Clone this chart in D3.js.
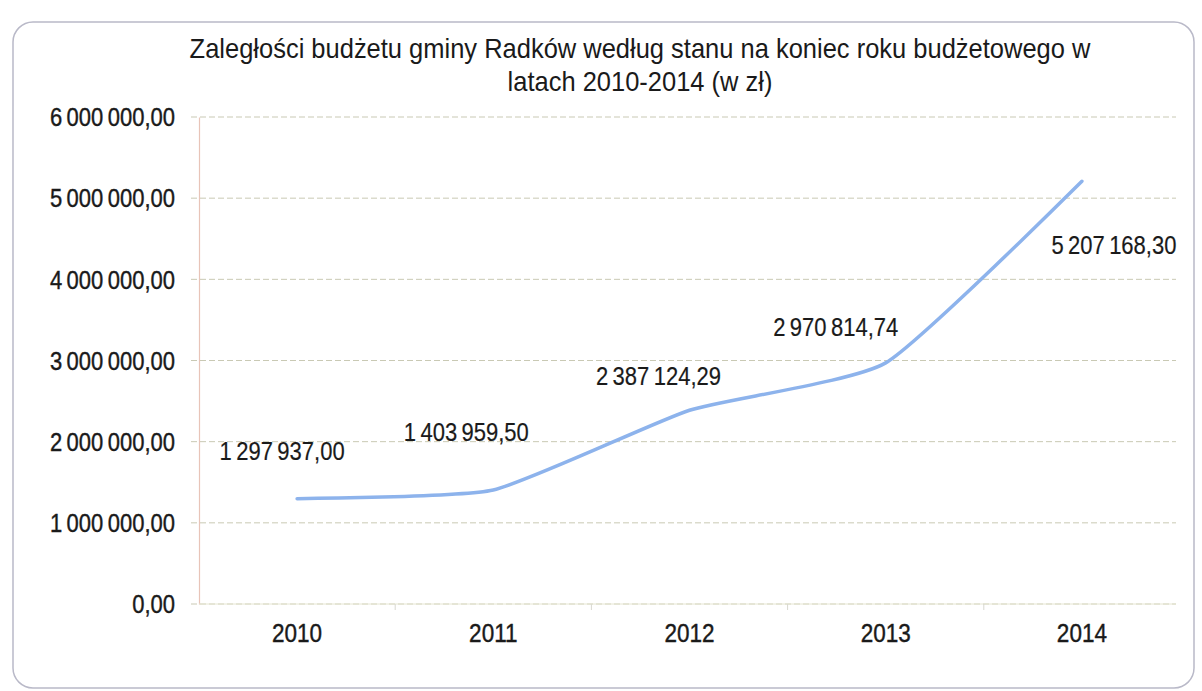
<!DOCTYPE html>
<html>
<head>
<meta charset="utf-8">
<script src="https://cdn.jsdelivr.net/npm/d3@7"></script>
<style>
  body { margin: 0; background: #fff; }
  svg { display: block; font-family: "Liberation Sans", Arial, sans-serif; }
</style>
</head>
<body>
<svg width="1202" height="691"></svg>
<script>
// ------------------------------ data ----------
var years = ['2010', '2011', '2012', '2013', '2014'];
var values = [1297937.00, 1403959.50, 2387124.29, 2970814.74, 5207168.30];
var yTicks = [0, 1000000, 2000000, 3000000, 4000000, 5000000, 6000000];
var titleLines = [
    'Zaległości budżetu gminy Radków według stanu na koniec roku budżetowego  w',
    'latach 2010-2014 (w zł)'
];

// label nudges (px) relative to each point
var labelDx = [-15, -27, -31, -50, 32];
var labelDy = [-47, -58, -34, -36, 64];

// ------------------------------ layout ----------
var svg = d3.select('svg');
var plotL = 199, plotR = 1180, plotT = 117, plotB = 604;

function fmt(v) {
    var s = d3.format(',.2f')(v);
    return s.replace(/,/g, '\u2009').replace('.', ',');
}

// text in the scan is a bit narrower than the font -> squeeze it
function squeeze(sel, k) {
    sel.each(function() {
        var w = this.getComputedTextLength();
        d3.select(this)
          .attr('textLength', w * k)
          .attr('lengthAdjust', 'spacingAndGlyphs');
    });
}

// frame
svg.append('rect')
   .attr('x', 13).attr('y', 22)
   .attr('width', 1181).attr('height', 666)
   .attr('rx', 20)
   .style('fill', 'none')
   .style('stroke', '#b9b9c8')
   .style('stroke-width', 1.5);

// title
var title = svg.selectAll('text.title')
   .data(titleLines)
   .enter().append('text')
   .attr('class', 'title')
   .attr('x', 640)
   .attr('y', (d, i) => 58 + i * 33)
   .attr('text-anchor', 'middle')
   .style('font-size', '28px')
   .style('fill', '#1a1a1a')
   .text(d => d);
squeeze(title, 0.91);

var x = d3.scaleBand().domain(years).range([plotL, plotR]);
var y = d3.scaleLinear().domain([0, 6000000]).range([plotB, plotT]);

// grid
svg.append('g')
   .selectAll('line')
   .data(yTicks)
   .enter().append('line')
   .attr('x1', plotL - 8).attr('x2', plotR - 4)
   .attr('y1', d => y(d)).attr('y2', d => y(d))
   .style('stroke', '#c9c9b4')
   .style('stroke-width', 1)
   .style('stroke-dasharray', '6,3');

// y axis
var yAxis = d3.axisLeft(y).tickValues(yTicks).tickSize(0).tickPadding(24).tickFormat(fmt);
var gy = svg.append('g')
   .attr('transform', 'translate(' + plotL + ',0)')
   .call(yAxis);
gy.select('.domain').style('stroke', '#e8c4b8').style('stroke-width', 1.2);
gy.selectAll('text')
   .style('font-size', '25px')
   .style('font-family', '"Liberation Sans", Arial, sans-serif')
   .style('fill', '#1a1a1a')
   .style('stroke', '#1a1a1a')
   .style('stroke-width', 0.4)
   .attr('dy', '0.35em');
squeeze(gy.selectAll('text'), 0.88);

// x axis
var xAxis = d3.axisBottom(x).tickSize(0).tickPadding(20);
var gx = svg.append('g')
   .attr('transform', 'translate(0,' + plotB + ')')
   .call(xAxis);
gx.select('.domain').style('stroke', '#e6e6d2').attr('d', 'M' + plotL + ',0H' + (plotR - 4));
gx.selectAll('text')
   .style('font-size', '25px')
   .style('font-family', '"Liberation Sans", Arial, sans-serif')
   .style('fill', '#1a1a1a')
   .style('stroke', '#1a1a1a')
   .style('stroke-width', 0.4)
   .attr('dy', '0.7em');
squeeze(gx.selectAll('text'), 0.9);

// category tick marks
svg.append('g')
   .selectAll('line')
   .data(years.slice(1))
   .enter().append('line')
   .attr('x1', d => x(d)).attr('x2', d => x(d))
   .attr('y1', plotB).attr('y2', plotB + 6)
   .style('stroke', '#d8d8d0');

// line
var line = d3.line()
   .x((d, i) => x(years[i]) + x.bandwidth() / 2)
   .y(d => y(d))
   .curve(d3.curveCardinal.tension(0.5));

svg.append('path')
   .datum(values)
   .attr('d', line)
   .style('fill', 'none')
   .style('stroke', '#8db3ec')
   .style('stroke-width', 3.5)
   .style('stroke-linecap', 'round');

// data labels
var labels = svg.append('g')
   .selectAll('text')
   .data(values)
   .enter().append('text')
   .attr('x', (d, i) => x(years[i]) + x.bandwidth() / 2 + labelDx[i])
   .attr('y', (d, i) => y(d) + labelDy[i])
   .attr('text-anchor', 'middle')
   .attr('dy', '0.35em')
   .style('font-size', '25px')
   .style('fill', '#1a1a1a')
   .style('stroke', '#1a1a1a')
   .style('stroke-width', 0.2)
   .text(d => fmt(d));
squeeze(labels, 0.88);
</script>
</body>
</html>
